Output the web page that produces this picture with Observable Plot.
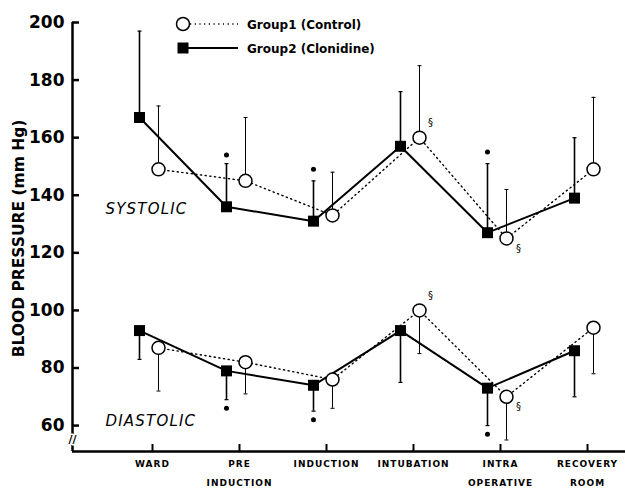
<!DOCTYPE html>
<html><head><meta charset="utf-8">
<script src="https://cdn.jsdelivr.net/npm/d3@7"></script>
<script src="https://cdn.jsdelivr.net/npm/@observablehq/plot@0.6"></script>
<style>
body{margin:0;background:#fff;}
#wrap{position:relative;width:625px;height:489px;}
#legend{position:absolute;left:0;top:0;pointer-events:none;}
#wrap svg g[aria-label="x-axis tick label"] text{letter-spacing:1px;}
#wrap svg g[font-style="italic"] text{letter-spacing:1.2px;}
</style></head><body><div id="wrap"></div>
<script>
const categories = ["WARD", "PRE\nINDUCTION", "INDUCTION", "INTUBATION", "INTRA\nOPERATIVE", "RECOVERY\nROOM"];
const yTicks = [60, 80, 100, 120, 140, 160, 180, 200];

// Systolic
const sysG1 = [149, 145, 133, 160, 125, 149];
const sysG1Top = [171, 167, 148, 185, 142, 174];
const sysG2 = [167, 136, 131, 157, 127, 139];
const sysG2Top = [197, 151, 145, 176, 151, 160];
const sysStars = [null, 154, 149, null, 155, null];

// Diastolic
const diaG1 = [87, 82, 76, 100, 70, 94];
const diaG1Low = [72, 71, 66, 85, 55, 78];
const diaG2 = [93, 79, 74, 93, 73, 86];
const diaG2Low = [83, 69, 65, 75, 60, 70];
const diaStars = [null, 66, 62, null, 57, null];

// significance marks on group 1
const sigAbove = ["", "", "", "§", "", ""];
const sigBelow = ["", "", "", "", "§", ""];

const phaseNames = ["SYSTOLIC", "DIASTOLIC"];
const phaseLabelY = [135, 61.5];

const legendItems = ["Group1 (Control)", "Group2 (Clonidine)"];

const idx = d3.range(categories.length);
function rows(vals, errs, phase, group, sig1, sig2) {
  return idx.map(i => ({i, value: vals[i], err: errs[i], phase, group, sigA: sig1 ? sig1[i] : "", sigB: sig2 ? sig2[i] : ""}));
}
const g1 = [...rows(sysG1, sysG1Top, "sys", 1, sigAbove, sigBelow), ...rows(diaG1, diaG1Low, "dia", 1, sigAbove, sigBelow)];
const g2 = [...rows(sysG2, sysG2Top, "sys", 2), ...rows(diaG2, diaG2Low, "dia", 2)];
const stars = [...idx.map(i => ({i, y: sysStars[i]})), ...idx.map(i => ({i, y: diaStars[i]}))].filter(d => d.y != null);

const W = 625, H = 489, mL = 72, mR = 0, mT = 22, mB = 38;
const xMin = -0.9195, xMax = 5.4368, yMin = 51, yMax = 200;
const dx2 = -13, dx1 = 6;

const capSymbol = {draw(ctx, size) { const w = Math.sqrt(size / Math.PI); ctx.moveTo(-w, 0); ctx.lineTo(w, 0); }};

const plot = Plot.plot({
  width: W, height: H,
  marginLeft: mL, marginRight: mR, marginTop: mT, marginBottom: mB,
  x: {domain: [xMin, xMax], axis: null},
  y: {domain: [yMin, yMax], axis: null},
  style: {fontFamily: "DejaVu Sans", color: "black", background: "white"},
  marks: [
    // axes
    Plot.ruleX([xMin], {stroke: "black", strokeWidth: 2.5}),
    Plot.ruleY([yMin], {stroke: "black", strokeWidth: 2.5}),
    Plot.tickY(yTicks, {y: d => d, insetRight: W - mL - mR - 7, strokeWidth: 2.5}),
    Plot.tickX(idx, {x: d => d, insetTop: H - mT - mB - 7, strokeWidth: 2}),
    Plot.axisY(yTicks, {anchor: "left", tickSize: 0, tickPadding: 8, fontSize: 17, fontWeight: "bold", label: null, tickFormat: d => String(d)}),
    Plot.axisX(idx, {anchor: "bottom", tickSize: 0, tickPadding: 2, fontSize: 9, fontWeight: "bold", lineHeight: 2.1, label: null, tickFormat: i => categories[i]}),
    Plot.text(["//"], {frameAnchor: "bottom-left", dy: -9, dx: 0, textAnchor: "middle", fontSize: 11, fontWeight: "bold", stroke: "white", strokeWidth: 3, fill: "black", paintOrder: "stroke"}),
    Plot.text(["BLOOD PRESSURE (mm Hg)"], {frameAnchor: "left", textAnchor: "middle", rotate: -90, dx: -53, dy: 1.5, fontSize: 15.5, fontWeight: "bold"}),
    Plot.text(phaseNames, {x: () => 0, y: (d, k) => phaseLabelY[k], dx: -47, textAnchor: "start", fontSize: 15, fontStyle: "italic"}),
    // lines
    Plot.line(g1, {x: "i", y: "value", z: "phase", dx: dx1, stroke: "black", strokeWidth: 1.4, strokeDasharray: "1.2,3.5"}),
    Plot.line(g2, {x: "i", y: "value", z: "phase", dx: dx2, stroke: "black", strokeWidth: 2}),
    // error bars
    Plot.ruleX(g1, {x: "i", y1: "value", y2: "err", dx: dx1, stroke: "black", strokeWidth: 1}),
    Plot.ruleX(g2, {x: "i", y1: "value", y2: "err", dx: dx2, stroke: "black", strokeWidth: 1.6}),
    Plot.dot(g1, {x: "i", y: "err", dx: dx1, symbol: capSymbol, r: 2, stroke: "black", strokeWidth: 1}),
    Plot.dot(g2, {x: "i", y: "err", dx: dx2, symbol: capSymbol, r: 2, stroke: "black", strokeWidth: 1.2}),
    // significance stars
    Plot.dot(stars, {x: "i", y: "y", dx: dx2, r: 2.5, fill: "black"}),
    // points
    Plot.dot(g2, {x: "i", y: "value", dx: dx2, symbol: "square", r: 6.2, fill: "black"}),
    Plot.dot(g1, {x: "i", y: "value", dx: dx1, r: 6.5, fill: "white", stroke: "black", strokeWidth: 1.5}),
    Plot.text(g1, {x: "i", y: "value", text: "sigA", dx: dx1 + 11, dy: -15, fontSize: 10}),
    Plot.text(g1, {x: "i", y: "value", text: "sigB", dx: dx1 + 12, dy: 10, fontSize: 10})
  ]
});

const wrap = document.getElementById("wrap");
wrap.appendChild(plot);

// legend overlay
const lg = d3.select(wrap).append("svg").attr("id", "legend").attr("width", W).attr("height", 60)
  .style("font-family", "DejaVu Sans");
lg.append("line").attr("x1", 190).attr("x2", 238).attr("y1", 24).attr("y2", 24)
  .attr("stroke", "black").attr("stroke-width", 1.4).attr("stroke-dasharray", "1.2,3.5");
lg.append("circle").attr("cx", 183).attr("cy", 24).attr("r", 6.5).attr("fill", "white").attr("stroke", "black").attr("stroke-width", 1.5);
lg.append("line").attr("x1", 183).attr("x2", 238).attr("y1", 48).attr("y2", 48)
  .attr("stroke", "black").attr("stroke-width", 2);
lg.append("rect").attr("x", 177.5).attr("y", 42.5).attr("width", 11).attr("height", 11).attr("fill", "black");
lg.selectAll("text.l").data(legendItems).join("text").attr("class", "l")
  .attr("x", 247).attr("y", (d, k) => 28.5 + k * 24).attr("font-size", 12).attr("font-weight", "bold").text(d => d);
</script></body></html>
